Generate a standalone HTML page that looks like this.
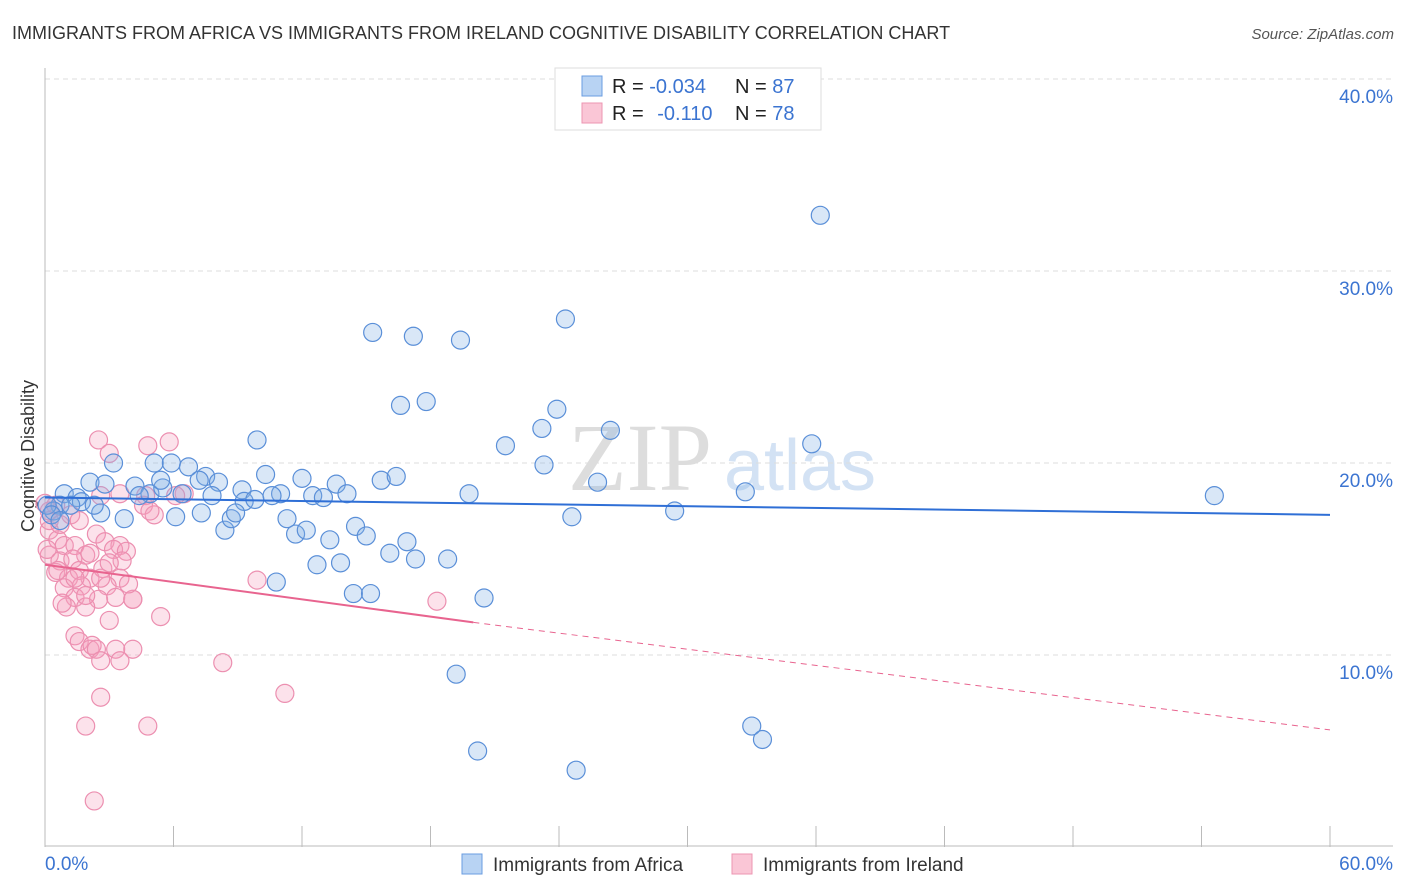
<!DOCTYPE html>
<html><head><meta charset="utf-8"><style>
body{margin:0;background:#fff;font-family:"Liberation Sans",sans-serif;}
#wrap{position:relative;width:1406px;height:892px;overflow:hidden;}
</style></head><body>
<div id="wrap">
<svg id="svg" width="1406" height="892" xmlns="http://www.w3.org/2000/svg">
<text x="12" y="39" font-size="18" fill="#333">IMMIGRANTS FROM AFRICA VS IMMIGRANTS FROM IRELAND COGNITIVE DISABILITY CORRELATION CHART</text>
<text x="1394" y="39" font-size="15" fill="#555" font-style="italic" text-anchor="end">Source: ZipAtlas.com</text>
<text x="34" y="456" font-size="18" fill="#333" transform="rotate(-90 34 456)" text-anchor="middle">Cognitive Disability</text>
<text x="640" y="490" font-size="96" fill="#ddd" font-family="Liberation Serif,serif" text-anchor="middle">ZIP</text>
<text x="800" y="490" font-size="72" fill="#d3e2f4" text-anchor="middle">atlas</text>
<g id="grid"></g><g id="pts"></g><g id="lines"></g>
<g>
<rect x="555" y="68" width="266" height="62" fill="#fff" stroke="#ddd"/>
<rect x="582" y="76" width="20" height="20" fill="#b8d3f3" stroke="#6a9de0"/>
<rect x="582" y="103" width="20" height="20" fill="#fac6d6" stroke="#ec95b2"/>
<text x="612" y="93" font-size="20" fill="#222">R = <tspan fill="#3b74d1">-0.034</tspan></text>
<text x="735" y="93" font-size="20" fill="#222">N = <tspan fill="#3b74d1">87</tspan></text>
<text x="612" y="120" font-size="20" fill="#222">R = <tspan fill="#3b74d1" dx="8">-0.110</tspan></text>
<text x="735" y="120" font-size="20" fill="#222">N = <tspan fill="#3b74d1">78</tspan></text>
</g>
<g>
<rect x="462" y="854" width="20" height="20" fill="#b8d3f3" stroke="#6a9de0"/>
<text x="493" y="871" font-size="19" fill="#333">Immigrants from Africa</text>
<rect x="732" y="854" width="20" height="20" fill="#fac6d6" stroke="#ec95b2"/>
<text x="763" y="871" font-size="19" fill="#333">Immigrants from Ireland</text>
</g>
</svg>
</div>
<script>
const yTicks=[10,20,30,40];
const xTickLabels=["0.0%","60.0%"];
const africaX=[36.2,24.3,15.3,17.2,19.4,16.6,17.8,23.9,23.2,26.4,21.5,35.8,9.9,3.2,5.1,5.9,6.7,7.5,8.1,10.3,12.0,13.6,15.7,16.4,23.3,25.8,32.7,54.6,19.8,0.9,2.1,2.8,4.2,4.9,5.5,6.4,7.8,9.2,9.3,9.8,11.0,10.6,12.5,13.0,14.1,1.5,1.7,0.7,0.4,2.6,3.7,6.1,7.3,8.4,8.7,8.9,11.3,11.7,12.2,13.3,14.5,15.0,16.1,16.9,17.3,18.8,12.7,13.8,10.8,14.4,15.2,20.5,24.6,29.4,19.2,20.2,24.8,33.0,33.5,0.1,0.3,0.7,1.2,2.3,4.4,5.4,7.2];
const africaY=[32.9,27.5,26.8,26.6,26.4,23.0,23.2,22.8,21.8,21.7,20.9,21.0,21.2,20.0,20.0,20.0,19.8,19.3,19.0,19.4,19.2,18.9,19.1,19.3,19.9,19.0,18.5,18.3,18.4,18.4,19.0,18.9,18.8,18.4,18.7,18.4,18.3,18.6,18.0,18.1,18.4,18.3,18.3,18.2,18.4,18.2,17.98,17.8,17.5,17.4,17.1,17.2,17.4,16.5,17.1,17.4,17.1,16.3,16.5,16.0,16.7,16.2,15.3,15.9,15.0,15.0,14.7,14.8,13.8,13.2,13.2,12.97,17.2,17.5,9.0,5.0,4.0,6.3,5.6,17.8,17.3,17.0,17.8,17.8,18.3,19.1,19.1];
const irelandX=[2.5,3.0,4.8,5.8,3.5,2.6,4.7,4.6,5.1,6.5,0.5,1.2,1.6,0.2,0.6,0.2,0.9,0.7,1.4,2.4,2.8,3.5,3.2,3.8,1.9,3.6,1.3,0.5,1.1,1.6,2.1,2.7,3.5,2.9,1.7,0.9,2.5,3.3,4.1,1.4,1.9,1.0,4.1,5.4,1.4,1.6,2.1,2.2,2.4,3.3,4.1,2.6,3.5,8.3,9.9,11.2,2.6,1.9,4.8,2.3,18.3,0.2,0.2,0.7,2.1,3.0,1.4,2.6,3.9,0.6,1.9,3.0,0.0,0.1,0.8,4.9,6.1];
const irelandY=[21.2,20.5,20.9,21.1,18.4,18.3,18.3,17.8,17.3,18.4,17.8,17.3,17.0,16.5,16.0,15.2,15.7,14.9,15.7,16.3,15.9,15.7,15.5,15.4,15.2,14.9,15.0,14.3,14.0,14.4,14.0,14.5,14.0,13.6,13.6,13.5,12.9,13.0,12.9,13.0,12.5,12.5,12.9,12.0,11.0,10.7,10.3,10.5,10.3,10.3,10.3,9.7,9.7,9.6,13.9,8.0,7.8,6.3,6.3,2.4,12.8,17.5,17.0,16.8,15.3,14.8,14.0,14.0,13.7,14.4,13.1,11.8,17.9,15.5,12.7,17.5,18.3];
const africaTrend=[18.2,17.3];
const irelandTrend=[14.7,11.7,6.1];
const X0=45,X1=1330,Y0=847,PX=Y0-655;
const sx=v=>X0+v/60*(X1-X0);
const sy=v=>Y0-v*(PX/10);
const NS="http://www.w3.org/2000/svg";
function mk(tag,attrs,parent){const e=document.createElementNS(NS,tag);for(const k in attrs)e.setAttribute(k,attrs[k]);parent.appendChild(e);return e;}
const grid=document.getElementById('grid');
yTicks.forEach(t=>{
 const l=mk('line',{x1:X0,x2:1393,y1:sy(t),y2:sy(t),stroke:'#ddd','stroke-dasharray':'5,4'},grid);
 
 
 const tx=mk('text',{x:1393,y:sy(t)+24,'font-size':19,fill:'#3b74d1','text-anchor':'end'},grid);
 tx.textContent=t.toFixed(1)+'%';
 
 
});
const ax=mk('line',{x1:X0,x2:X0,y1:68,y2:Y0,stroke:'#bbb'},grid);


const bx=mk('line',{x1:X0,x2:1393,y1:Y0-1,y2:Y0-1,stroke:'#bbb'},grid);


for(let i=0;i<=10;i++){const t=mk('line',{x1:sx(i*6),x2:sx(i*6),y1:826,y2:Y0,stroke:'#bbb'},grid);
 
 }
const xl=mk('text',{x:45,y:870,'font-size':19,fill:'#3b74d1'},grid);xl.textContent=xTickLabels[0];


const xr=mk('text',{x:1393,y:870,'font-size':19,fill:'#3b74d1','text-anchor':'end'},grid);xr.textContent=xTickLabels[1];


const pts=document.getElementById('pts');
irelandX.forEach((x,i)=>{const c=mk('circle',{cx:sx(x),cy:sy(irelandY[i]),r:9,fill:'rgba(244,160,190,0.3)',stroke:'#ec8fb0','stroke-width':1.2},pts);
 
 });
africaX.forEach((x,i)=>{const c=mk('circle',{cx:sx(x),cy:sy(africaY[i]),r:9,fill:'rgba(130,175,230,0.3)',stroke:'#5a8fd8','stroke-width':1.2},pts);
 
 });
const lines=document.getElementById('lines');
const bl=mk('line',{x1:sx(0),y1:sy(africaTrend[0]),x2:sx(60),y2:sy(africaTrend[1]),stroke:'#2f6fd6','stroke-width':2},lines);


const pl=mk('line',{x1:sx(0),y1:sy(irelandTrend[0]),x2:sx(20),y2:sy(irelandTrend[1]),stroke:'#e8648f','stroke-width':2},lines);


const pd=mk('line',{x1:sx(20),y1:sy(irelandTrend[1]),x2:sx(60),y2:sy(irelandTrend[2]),stroke:'#e8648f','stroke-width':1,'stroke-dasharray':'6,5'},lines);


</script>
</body></html>
